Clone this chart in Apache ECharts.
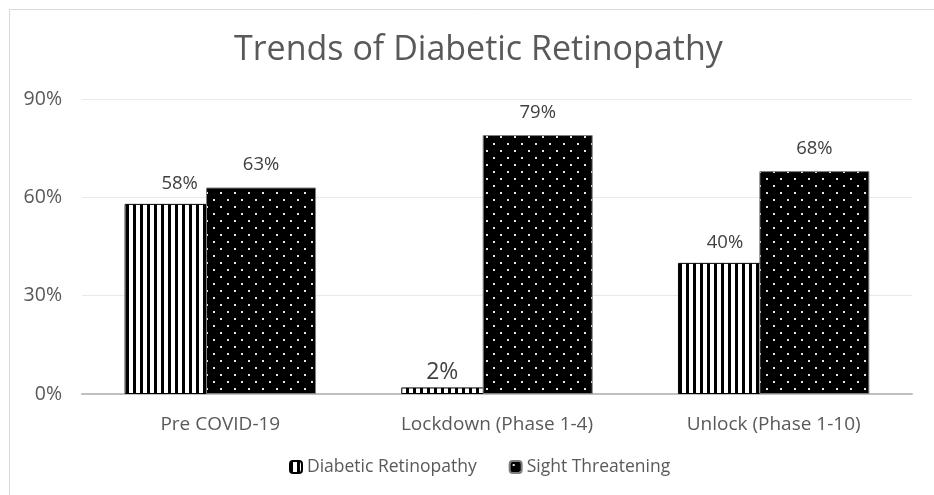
<!DOCTYPE html>
<html>
<head>
<meta charset="utf-8">
<script src="https://cdn.jsdelivr.net/npm/echarts@6/dist/echarts.min.js"></script>
<style>
html,body{margin:0;padding:0;background:#fff;}
#chart{width:934px;height:495px;}
</style>
</head>
<body>
<div id="chart"></div>
<script>
const categories = ['Pre COVID-19', 'Lockdown (Phase 1-4)', 'Unlock (Phase 1-10)'];
const diabeticRetinopathy = [58, 2, 40];
const sightThreatening = [63, 79, 68];
const yTicks = [0, 30, 60, 90];

function stripePattern() {
  const c = document.createElement('canvas');
  c.width = 7; c.height = 7;
  const g = c.getContext('2d');
  g.fillStyle = '#fff'; g.fillRect(0, 0, 7, 7);
  g.fillStyle = '#000'; g.fillRect(0, 0, 3, 7);
  return c;
}
function dotPattern() {
  const c = document.createElement('canvas');
  c.width = 14; c.height = 14;
  const g = c.getContext('2d');
  g.fillStyle = '#000'; g.fillRect(0, 0, 14, 14);
  g.fillStyle = '#e6e6e6';
  g.fillRect(3, 3, 2, 2);
  g.fillRect(10, 10, 2, 2);
  return c;
}

const FONT = 'Open Sans';
const TXT = '#595959';
const LBL = '#404040';
const drLabelStyle = [{}, {fontSize: 23, distance: 3, offset: [-14, 0]}, {offset: [-8, 0]}];
const chart = echarts.init(document.getElementById('chart'), null, {renderer: 'canvas'});
chart.setOption({
  backgroundColor: '#fff',
  animation: false,
  textStyle: {fontFamily: FONT, color: TXT},
  graphic: [{
    type: 'rect', left: 7, top: 7,
    shape: {width: 940, height: 500},
    style: {fill: 'none', stroke: '#d9d9d9', lineWidth: 1}
  }],
  title: {
    text: 'Trends of Diabetic Retinopathy',
    left: 229, top: 28,
    textStyle: {fontFamily: FONT, fontSize: 34, fontWeight: 'normal', color: TXT}
  },
  legend: {
    bottom: 14, left: 284,
    itemWidth: 12, itemHeight: 12, itemGap: 32,
    textStyle: {fontFamily: FONT, fontSize: 17.5, color: TXT},
    data: ['Diabetic Retinopathy', 'Sight Threatening']
  },
  grid: {left: 82, right: 22, top: 99, bottom: 101},
  xAxis: {
    type: 'category', data: categories,
    axisLine: {lineStyle: {color: '#bfbfbf', width: 2}},
    axisTick: {show: false},
    axisLabel: {fontFamily: FONT, fontSize: 19, color: TXT, margin: 21}
  },
  yAxis: {
    type: 'value', min: yTicks[0], max: yTicks[yTicks.length - 1], interval: 30,
    axisLine: {show: false}, axisTick: {show: false},
    splitLine: {lineStyle: {color: '#e9e9e9', width: 1}},
    axisLabel: {fontFamily: FONT, fontSize: 19.5, color: TXT, margin: 20, formatter: '{value}%'}
  },
  series: [{
    name: 'Diabetic Retinopathy', type: 'bar',
    barWidth: 110, barGap: '-26%',
    data: diabeticRetinopathy.map((v, i) => ({value: v, label: drLabelStyle[i]})),
    itemStyle: {color: {image: stripePattern(), repeat: 'repeat'}, borderColor: '#000', borderWidth: 1},
    label: {show: true, position: 'top', distance: 11, formatter: '{c}%', fontFamily: FONT, fontSize: 18.5, color: LBL}
  }, {
    name: 'Sight Threatening', type: 'bar',
    barWidth: 110,
    data: sightThreatening,
    itemStyle: {color: {image: dotPattern(), repeat: 'repeat'}, borderColor: '#7f7f7f', borderWidth: 1},
    label: {show: true, position: 'top', distance: 13, formatter: '{c}%', fontFamily: FONT, fontSize: 18.5, color: LBL}
  }]
});
</script>
</body>
</html>
